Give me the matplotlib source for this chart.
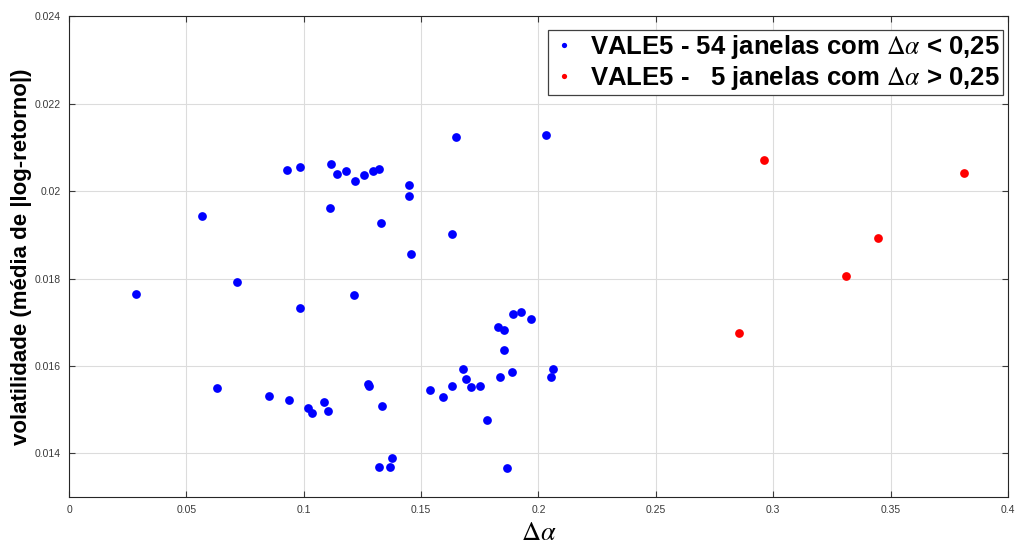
import matplotlib
matplotlib.use("Agg")
import matplotlib.pyplot as plt

# janelas com delta alpha < 0,25
blue_x = [0.0930, 0.0986, 0.1117, 0.1140, 0.1180, 0.1220, 0.1111, 0.0565, 0.0715, 0.0286,
          0.1214, 0.0985, 0.0630, 0.0853, 0.0939, 0.1016, 0.1034, 0.1087, 0.1105, 0.1258,
          0.1293, 0.1322, 0.1450, 0.1448, 0.1327, 0.1648, 0.2033, 0.1633, 0.1458, 0.1893,
          0.1927, 0.1970, 0.1827, 0.1851, 0.1854, 0.1677, 0.1692, 0.1633, 0.1536, 0.1592,
          0.1712, 0.1751, 0.1834, 0.1887, 0.2063, 0.2054, 0.1781, 0.1865, 0.1275, 0.1279,
          0.1333, 0.1377, 0.1322, 0.1367]
blue_y = [0.02049, 0.02055, 0.02062, 0.02040, 0.02045, 0.02023, 0.01961, 0.01942, 0.01792, 0.01765,
          0.01762, 0.01733, 0.01549, 0.01532, 0.01523, 0.01503, 0.01492, 0.01517, 0.01497, 0.02038,
          0.02046, 0.02050, 0.02014, 0.01989, 0.01927, 0.02125, 0.02129, 0.01901, 0.01856, 0.01718,
          0.01724, 0.01708, 0.01689, 0.01682, 0.01636, 0.01594, 0.01569, 0.01555, 0.01544, 0.01529,
          0.01552, 0.01555, 0.01574, 0.01585, 0.01594, 0.01574, 0.01476, 0.01366, 0.01558, 0.01555,
          0.01508, 0.01389, 0.01369, 0.01369]

# janelas com delta alpha > 0,25
red_x = [0.2961, 0.3811, 0.3448, 0.3310, 0.2856]
red_y = [0.02072, 0.02042, 0.01892, 0.01805, 0.01676]

xticks = [0, 0.05, 0.1, 0.15, 0.2, 0.25, 0.3, 0.35, 0.4]
xtick_labels = ["0", "0.05", "0.1", "0.15", "0.2", "0.25", "0.3", "0.35", "0.4"]
yticks = [0.014, 0.016, 0.018, 0.020, 0.022, 0.024]
ytick_labels = ["0.014", "0.016", "0.018", "0.02", "0.022", "0.024"]

plt.rcParams["font.family"] = ["Liberation Sans", "DejaVu Sans"]
plt.rcParams["mathtext.fontset"] = "stix"

fig = plt.figure(figsize=(10.16, 5.45), dpi=100)
ax = fig.add_axes([0.068, 0.088, 0.924, 0.882])

ax.plot(blue_x, blue_y, "o", color="#0000ff", ms=6.3, mec="none",
        label=r"VALE5 - 54 janelas com $\Delta\alpha$ < 0,25")
ax.plot(red_x, red_y, "o", color="#ff0000", ms=6.3, mec="none",
        label=r"VALE5 -   5 janelas com $\Delta\alpha$ > 0,25")

ax.set_xlim(0, 0.4)
ax.set_ylim(0.013, 0.024)
ax.set_xticks(xticks)
ax.set_xticklabels(xtick_labels)
ax.set_yticks(yticks)
ax.set_yticklabels(ytick_labels)
ax.tick_params(direction="in", length=4, width=0.8, labelsize=7.5, colors="#3a3a3a",
               top=True, right=True, pad=6)
ax.grid(True, color="#dcdcdc", linewidth=0.8)
ax.set_axisbelow(True)
for s in ax.spines.values():
    s.set_color("#262626")
    s.set_linewidth(0.8)

ax.set_xlabel(r"$\Delta\alpha$", fontsize=19, labelpad=4)
ax.set_ylabel("volatilidade (média de |log-retorno|)", fontsize=16, fontweight="bold", labelpad=2)

leg = ax.legend(loc="upper right", bbox_to_anchor=(0.9948, 0.9716), borderaxespad=0,
                prop={"size": 18.5, "weight": "bold"}, markerscale=0.6,
                fancybox=False, framealpha=1, edgecolor="#404040", handletextpad=0.5,
                handlelength=1.0, labelspacing=0.12, borderpad=0.12)
leg.get_frame().set_linewidth(0.9)

fig.savefig("out.png", dpi=100)
